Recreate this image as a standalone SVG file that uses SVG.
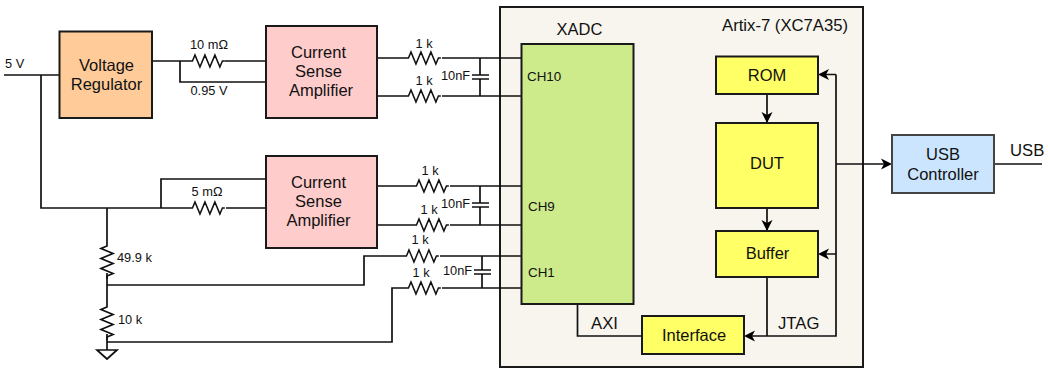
<svg xmlns="http://www.w3.org/2000/svg" width="1050" height="369" viewBox="0 0 1050 369">
<style>
text{font-family:"Liberation Sans",Arial,sans-serif;fill:#111}
.b{font-size:16.500px;text-anchor:middle}
.s{font-size:12.800px}
.c{font-size:13.400px}
.l{font-size:16.700px}
.m{text-anchor:middle}
.n{stroke:#1a1a1a;stroke-width:2}
.w{fill:none;stroke:#111;stroke-width:1.7}
.a{fill:#000}
</style>
<defs>
<path id="rh" d="M0 0h3l3-6 6 12 6-12 6 12 6-12 6 12 3-6h3" fill="none" stroke="#111" stroke-width="1.7" transform="scale(.83 1)"/>
<path id="rv" d="M0 0v3l-6 2.500 12 5-12 5 12 5-12 5 12 5-6 2.500v3" fill="none" stroke="#111" stroke-width="1.7"/>
<path id="ar" class="a" d="M0 0l-11-5.500 3 5.500-3 5.500z"/>
</defs>
<g id="fpga"><rect class="n" x="500" y="7" width="363" height="360" fill="#f8f5ee"/><text class="l" x="722" y="31">Artix-7 (XC7A35)</text></g>
<g id="connectors">
<path class="w" d="M4 75H59M41 75V208H190M226 208H266M161 208V179H266M152 61H190M225 61H266M180 61V82H266"/>
<path class="w" d="M377 58H406M442 58H521M377 96H406M442 96H521M480 58V75M480 79V96M472 75H489M472 79H489"/>
<path class="w" d="M377 186H414M450 186H521M377 225H414M450 225H521M480 186V203M480 207V225M472 203H489M472 207H489"/>
<path class="w" d="M107 285H364V256H404M440 256H521M107 342H392V288H406M442 288H521M482 256V270M482 274V288M474 270H491M474 274H491"/>
<path class="w" d="M107 208V243M107 273V304M107 334V350M97 350H117L107 359Z"/>
<path class="w" d="M577.500 304V336H642M767 94V123M767 208V231M767 277V336M836 74.500V336H748M836 74.500H822M836 254H822M836 164H888M994 164H1042"/>
<use href="#rh" x="190" y="61"/><use href="#rh" x="406" y="58"/><use href="#rh" x="406" y="96"/><use href="#rh" x="190" y="208"/>
<use href="#rh" x="414" y="186"/><use href="#rh" x="414" y="225"/><use href="#rh" x="404" y="256"/><use href="#rh" x="406" y="288"/>
<use href="#rv" x="107" y="243"/><use href="#rv" x="107" y="304"/>
<use href="#ar" transform="translate(818 74.500) rotate(180)"/>
<use href="#ar" transform="translate(767 123) rotate(90)"/>
<use href="#ar" transform="translate(767 231) rotate(90)"/>
<use href="#ar" transform="translate(818 254) rotate(180)"/>
<use href="#ar" transform="translate(744 336) rotate(180)"/>
<use href="#ar" transform="translate(892 164)"/>
</g>
<g id="regulator"><rect class="n" x="59.500" y="31.500" width="92.500" height="86.500" fill="#ffcc99"/><text class="b" x="106.500" y="71">Voltage</text><text class="b" x="106.500" y="90">Regulator</text></g>
<g id="csa1"><rect class="n" x="266" y="26" width="111" height="92" fill="#ffcccc"/><text class="b" x="318.500" y="58">Current</text><text class="b" x="318.500" y="77">Sense</text><text class="b" x="321" y="96">Amplifier</text></g>
<g id="csa2"><rect class="n" x="266" y="156" width="111" height="92" fill="#ffcccc"/><text class="b" x="318.500" y="188">Current</text><text class="b" x="318.500" y="207">Sense</text><text class="b" x="318.500" y="226">Amplifier</text></g>
<g id="xadc"><rect class="n" x="521.500" y="44" width="112" height="260" fill="#cdeb8b"/><text class="b" x="579.500" y="35">XADC</text><text class="c" x="527" y="81">CH10</text><text class="c" x="528" y="211">CH9</text><text class="c" x="528" y="277">CH1</text></g>
<g id="rom"><rect class="n" x="716" y="56.500" width="102" height="37.500" fill="#ffff66"/><text class="b" x="767" y="81">ROM</text></g>
<g id="dut"><rect class="n" x="716" y="123" width="102" height="85" fill="#ffff66"/><text class="b" x="767" y="169">DUT</text></g>
<g id="buffer"><rect class="n" x="716" y="231" width="102" height="46" fill="#ffff66"/><text class="b" x="767.500" y="259">Buffer</text></g>
<g id="interface"><rect class="n" x="642" y="316" width="102" height="38" fill="#ffff66"/><text class="b" x="694" y="341">Interface</text></g>
<g id="usb"><rect x="892" y="135" width="102" height="58" fill="#cce5ff" stroke="#444" stroke-width="2"/><text class="b" x="943" y="160">USB</text><text class="b" x="943" y="180">Controller</text></g>
<g id="labels">
<text class="s" x="5" y="68">5 V</text><text class="s m" x="209" y="49">10 mΩ</text><text class="s m" x="209" y="95">0.95 V</text>
<text class="s m" x="424" y="48">1 k</text><text class="s m" x="424" y="85">1 k</text><text class="s" x="441" y="80">10nF</text>
<text class="s m" x="430" y="175">1 k</text><text class="s m" x="429" y="214">1 k</text><text class="s" x="441" y="208">10nF</text>
<text class="s m" x="420" y="244">1 k</text><text class="s m" x="421" y="277">1 k</text><text class="s" x="443" y="275">10nF</text>
<text class="s m" x="207" y="196">5 mΩ</text><text class="s" x="117" y="262">49.9 k</text><text class="s" x="118" y="324">10 k</text>
<text class="l" x="591" y="329">AXI</text><text class="l" x="778" y="329">JTAG</text><text class="l" x="1010" y="156">USB</text>
</g>
</svg>
